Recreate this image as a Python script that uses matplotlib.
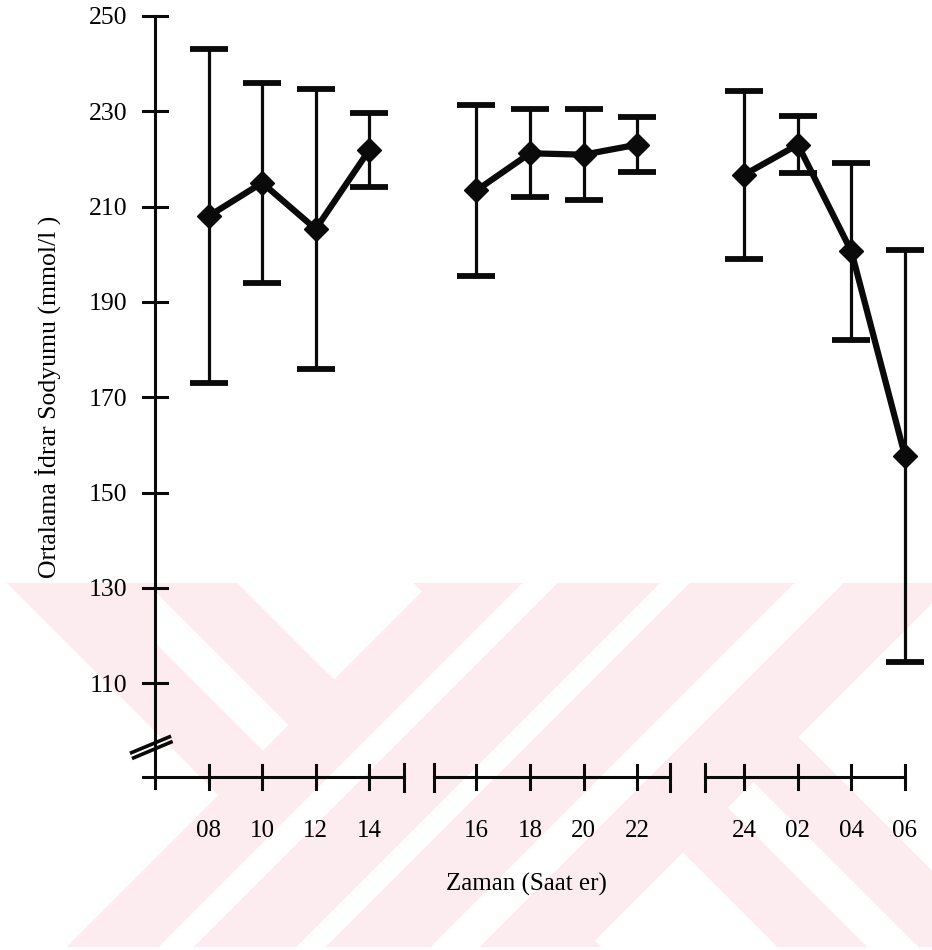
import numpy as np
import matplotlib
matplotlib.use("Agg")
import matplotlib.pyplot as plt

# ---- data -------------------------------------------------------------
hours = ["08", "10", "12", "14", "16", "18", "20", "22", "24", "02", "04", "06"]
positions = [1, 2, 3, 4, 6, 7, 8, 9, 11, 12, 13, 14]
groups = [[0, 1, 2, 3], [4, 5, 6, 7], [8, 9, 10, 11]]
mean_sodium = [208.0, 215.0, 205.3, 221.9, 213.4, 221.2, 220.9, 223.0,
               216.7, 223.0, 200.6, 157.7]
sd_sodium = [35.0, 21.0, 29.4, 7.8, 18.0, 9.2, 9.5, 5.8,
             17.6, 6.0, 18.6, 43.3]
y_ticks = [110, 130, 150, 170, 190, 210, 230, 250]
axis_segments = [(-0.22, 4.65), (5.2, 9.61), (10.26, 14.0)]
segment_caps = [4.65, 5.2, 9.61, 10.26]

y_label = "Ortalama İdrar Sodyumu (mmol/l )"
x_label = "Zaman (Saat er)"

# ---- figure -----------------------------------------------------------
W, H = 932, 950
fig = plt.figure(figsize=(W / 100, H / 100), dpi=100)

# pale pink background emblem in the lower part of the page
yy, xx = np.mgrid[0:H, 0:W] + 0.5
s = xx + yy          # "/" direction
d = yy - xx          # "\" direction
band = lambda v, a, b: (v >= a) & (v <= b)
in_d = band(d, 346, 576) | band(d, -61, 169)
stripe_d = (band(d, 437, 487) & (xx >= 157)) | band(d, 29, 79)
pink = in_d & ~stripe_d
pink &= ~band(s, 1243, 1273)
in_a = band(s, 1014, 1243) | band(s, 1273, 1535)
stripe_a = band(s, 1106, 1140) | band(s, 1378, 1426)
pink = (pink | in_a) & ~stripe_a
pink &= band(yy, 583, 947)
img = np.ones((H, W, 3))
img[pink] = np.array([253, 236, 239]) / 255.0

bg = fig.add_axes([0, 0, 1, 1], zorder=0)
bg.imshow(img, extent=(0, W, H, 0), interpolation="nearest")
bg.set_xlim(0, W)
bg.set_ylim(H, 0)
bg.axis("off")

# main plotting area
px_x0, px_per_x = 155.0, 53.57
px_y250, px_per_y = 16.0, 4.766
xlim = (-0.5, 14.5)
ylim = (88.0, 252.0)
left_px = px_x0 + xlim[0] * px_per_x
right_px = px_x0 + xlim[1] * px_per_x
top_px = px_y250 + (250 - ylim[1]) * px_per_y
bottom_px = px_y250 + (250 - ylim[0]) * px_per_y
ax = fig.add_axes([left_px / W, 1 - bottom_px / H,
                   (right_px - left_px) / W, (bottom_px - top_px) / H], zorder=1)
ax.set_xlim(*xlim)
ax.set_ylim(*ylim)
ax.set_facecolor("none")
ax.set_axis_off()

font = dict(family="Liberation Serif", color="black")
ink = "#0a0a0a"
axis_lw = 2.2
x_axis_level = 90.4

# y axis with ticks and labels
ax.plot([0, 0], [88.0, 250], color=ink, lw=axis_lw, clip_on=False)
for v in y_ticks:
    ax.plot([-0.224, 0.224], [v, v], color=ink, lw=axis_lw, clip_on=False)
    ax.text(-0.52, v - 1.78, str(v), ha="right", va="baseline", fontsize=18.5, **font)

# axis-break marks on the y axis
ax.plot([-0.467, 0.30], [95.3, 98.9], color=ink, lw=2.6, clip_on=False,
        solid_capstyle="butt")
ax.plot([-0.43, 0.33], [94.2, 97.8], color=ink, lw=2.6, clip_on=False,
        solid_capstyle="butt")

# segmented x axis
for a, b in axis_segments:
    ax.plot([a, b], [x_axis_level, x_axis_level], color=ink, lw=axis_lw, clip_on=False)
for p in positions:
    ax.plot([p, p], [x_axis_level - 2.5, x_axis_level + 2.4], color=ink,
            lw=axis_lw, clip_on=False)
for c in segment_caps:
    ax.plot([c, c], [x_axis_level - 3.0, x_axis_level + 2.66], color=ink,
            lw=axis_lw, clip_on=False)
for p, lab in zip(positions, hours):
    ax.text(p, 77.7, lab, ha="center", va="baseline", fontsize=18, **font)

ax.text(6.94, 66.6, x_label, ha="center", va="baseline", fontsize=18, **font)
ax.text(-2.0, 170.0, y_label, ha="center", va="center", rotation=90,
        fontsize=18.5, **font)

# mean +/- SD per time block, joined within each block
for g in groups:
    xs = [positions[i] for i in g]
    ms = [mean_sodium[i] for i in g]
    es = [sd_sodium[i] for i in g]
    ax.errorbar(xs, ms, yerr=es, fmt="none", ecolor=ink, elinewidth=2.3,
                capsize=14, capthick=4.2, clip_on=False, zorder=3)
    ax.plot(xs, ms, color=ink, lw=4.5, marker="D", markersize=12,
            markerfacecolor=ink, markeredgecolor=ink, clip_on=False, zorder=4)

fig.savefig("out.png", dpi=100)
